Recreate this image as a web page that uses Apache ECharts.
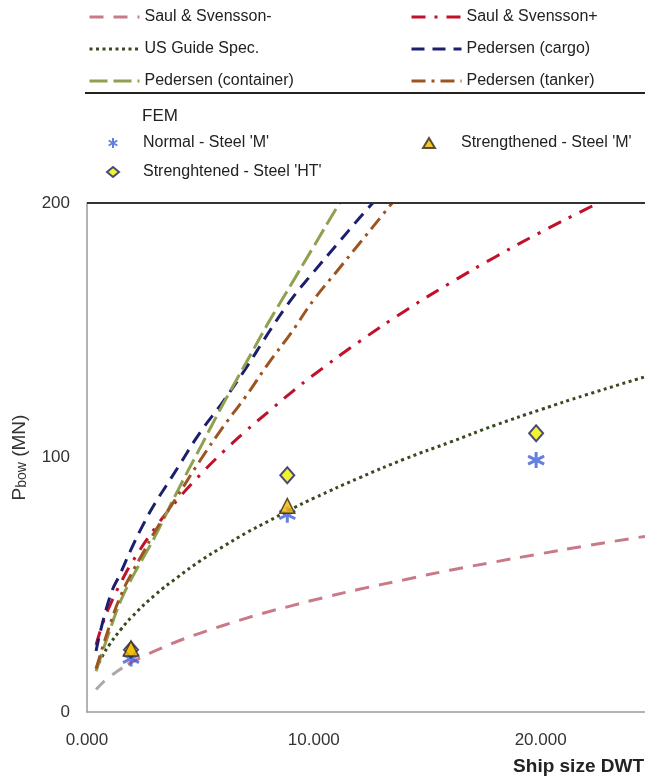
<!DOCTYPE html>
<html>
<head>
<meta charset="utf-8">
<script src="https://cdn.jsdelivr.net/npm/echarts@6/dist/echarts.min.js"></script>
<style>
html,body{margin:0;padding:0;background:#fff;}
#chart{width:645px;height:778px;}
</style>
</head>
<body>
<div id="chart"></div>
<script>
// ---- data (DWT, MN) ----
var xTicks = [0, 10000, 20000];
var yTicks = [0, 100, 200];

var saulMinusStart = [[400, 8.8], [700, 11.6], [1000, 13.9], [1400, 16.4], [1800, 18.7]];
var saulMinus = [[1800, 18.7], [2500, 22], [3000, 24], [4000, 27.8], [5000, 31], [6000, 34], [7000, 36.8], [8000, 39.4], [9000, 41.7], [10000, 44], [12000, 48.2], [14000, 52], [16000, 55.7], [18000, 59], [20000, 62.2], [22000, 65.3], [24600, 69]];
var saulPlus = [[400, 26.4], [700, 35], [1000, 41.7], [1500, 51], [2000, 59], [3000, 72.3], [4000, 83.5], [5000, 93.3], [6000, 102.2], [7000, 110.4], [8000, 118], [9000, 125.5], [10000, 132.5], [12000, 145.5], [14000, 157.5], [16000, 168.5], [18000, 178.8], [20000, 188.5], [22000, 197.6], [22600, 200.2]];
var usGuide = [[400, 17], [700, 22.3], [1000, 26.6], [1500, 32.5], [2000, 37.6], [3000, 46], [4000, 53], [5000, 59.4], [6000, 65], [7000, 70.3], [8000, 75], [9000, 79.7], [10000, 84], [12000, 92], [14000, 99.4], [16000, 106], [18000, 112.7], [20000, 118.8], [22000, 124.6], [24600, 131.7]];
var pedCargo = [[400, 24], [1000, 45], [1500, 55], [2000, 65], [2500, 74], [3000, 82], [3500, 89], [4000, 96], [5000, 110], [6000, 122], [7000, 135], [8000, 149], [9000, 162], [10000, 173], [11000, 183.5], [12000, 194], [12600, 200]];
var pedContainer = [[400, 16], [1000, 32], [1500, 44], [2000, 53], [2500, 61], [3000, 69], [4000, 87], [5000, 104], [6000, 121], [7000, 137], [8000, 153], [9000, 168], [10000, 183], [11000, 198], [11150, 200]];
var pedTanker = [[400, 17], [1000, 34], [1500, 46], [2000, 55], [2500, 63], [3000, 71], [4000, 85], [5000, 99], [6000, 112], [7000, 124], [8000, 137], [9000, 149], [10000, 162], [11000, 173], [12000, 184], [13000, 195], [13450, 200]];

var femNormalM = [[1940, 21], [8830, 77.5], [19800, 99]];
var femStrengthM = [[1940, 25], [8830, 81]];
var femStrengthHT = [[1940, 24.5], [8830, 93], [19800, 109.5]];

var names = ['Saul & Svensson-', 'Saul & Svensson+', 'US Guide Spec.', 'Pedersen (cargo)', 'Pedersen (container)', 'Pedersen (tanker)'];
var femNames = ["Normal - Steel 'M'", "Strengthened - Steel 'M'", "Strenghtened - Steel 'HT'"];

// ---- styling ----
var FONT = 'Liberation Sans, Arial, sans-serif';
var asterisk = 'path://M0,-10L0,10M-8.66,-5L8.66,5M-8.66,5L8.66,-5';

function lineSeries(name, data, color, type, width) {
  return {
    name: name, type: 'line', data: data, symbol: 'none', smooth: true,
    lineStyle: { color: color, width: width || 3, type: type },
    itemStyle: { color: color }, z: 2
  };
}

var chart = echarts.init(document.getElementById('chart'));
var legendText = { fontFamily: FONT, fontSize: 16, color: '#222' };
var hiddenSym = { opacity: 0, color: 'rgba(0,0,0,0)', borderWidth: 0 };

chart.setOption({
  animation: false,
  backgroundColor: '#fff',
  grid: { left: 87, top: 203, right: 0, bottom: 66, containLabel: false },
  legend: [
    { orient: 'vertical', left: 88, top: 9, padding: 0, itemWidth: 50, itemHeight: 14, itemGap: 16,
      itemStyle: hiddenSym, lineStyle: { width: 3 },
      textStyle: legendText, data: [names[0], names[2], names[4]] },
    { orient: 'vertical', left: 410, top: 9, padding: 0, itemWidth: 50, itemHeight: 14, itemGap: 16,
      itemStyle: hiddenSym, lineStyle: { width: 3 },
      textStyle: legendText, data: [names[1], names[3], names[5]] },
    { orient: 'vertical', left: 106, top: 135, padding: 0, itemWidth: 12, itemHeight: 10, itemGap: 13,
      textStyle: Object.assign({ padding: [0, 0, 0, 19] }, legendText), data: [femNames[0], femNames[2]] },
    { orient: 'vertical', left: 422, top: 135, padding: 0, itemWidth: 12, itemHeight: 10, itemGap: 13,
      textStyle: Object.assign({ padding: [0, 0, 0, 21] }, legendText), data: [femNames[1]] }
  ],
  xAxis: {
    type: 'value', min: xTicks[0], max: 24600, interval: xTicks[1] - xTicks[0],
    axisLine: { show: true, lineStyle: { color: '#9a9a9a', width: 1.5 } },
    axisTick: { show: false },
    splitLine: { show: false },
    axisLabel: { showMaxLabel: false, margin: 20, fontFamily: FONT, fontSize: 17, color: '#333',
      formatter: function (v) { return (v / 1000).toFixed(0) + '.000'; } }
  },
  yAxis: {
    type: 'value', min: yTicks[0], max: yTicks[2], interval: yTicks[1] - yTicks[0],
    axisLine: { show: true, lineStyle: { color: '#9a9a9a', width: 1.5 } },
    axisTick: { show: false },
    splitLine: { show: false },
    axisLabel: { margin: 17, fontFamily: FONT, fontSize: 17, color: '#333' },
    name: '{p|P}{s|bow}{n| (MN)}', nameLocation: 'middle', nameGap: 58, nameRotate: 90,
    nameTextStyle: {
      fontFamily: FONT, color: '#333',
      rich: {
        p: { fontSize: 19, fontFamily: FONT, color: '#333', lineHeight: 22, verticalAlign: 'bottom' },
        s: { fontSize: 14, fontFamily: FONT, color: '#333', lineHeight: 22, verticalAlign: 'bottom' },
        n: { fontSize: 19, fontFamily: FONT, color: '#333', lineHeight: 22, verticalAlign: 'bottom' }
      }
    }
  },
  graphic: [
    { type: 'line', shape: { x1: 85, y1: 93, x2: 645, y2: 93 }, style: { stroke: '#222', lineWidth: 2 }, z: 10 },
    { type: 'line', shape: { x1: 87, y1: 203, x2: 645, y2: 203 }, style: { stroke: '#333', lineWidth: 2 }, z: 10 },
    { type: 'text', left: 142, top: 108, style: { text: 'FEM', fontFamily: FONT, fontSize: 17, fill: '#222' } },
    { type: 'text', right: 1, top: 757, style: { text: 'Ship size DWT', fontFamily: FONT, fontSize: 19, fontWeight: 'bold', fill: '#222' } }
  ],
  series: [
    { name: '', type: 'line', data: saulMinusStart, symbol: 'none', smooth: true,
      lineStyle: { color: '#a9a9a9', width: 3, type: [12, 10] }, z: 2 },
    lineSeries(names[0], saulMinus, '#c97a88', [14, 10]),
    lineSeries(names[1], saulPlus, '#c0102a', [14, 9, 3, 9]),
    lineSeries(names[2], usGuide, '#3a4a20', [3, 3.5]),
    lineSeries(names[3], pedCargo, '#1c1f6e', [13, 8]),
    lineSeries(names[4], pedContainer, '#8fa050', [18, 6]),
    lineSeries(names[5], pedTanker, '#9c5520', [14, 6, 3, 6]),
    { name: femNames[0], type: 'scatter', data: femNormalM, symbol: asterisk, symbolSize: 16,
      itemStyle: { color: '#3f5fd6', borderColor: '#3f5fd6', borderWidth: 3 }, z: 5 },
    { name: femNames[2], type: 'scatter', data: femStrengthHT, symbol: 'diamond', symbolSize: [14, 16],
      itemStyle: { color: '#eef000', borderColor: '#1c1f6e', borderWidth: 2 }, z: 6 },
    { name: femNames[1], type: 'scatter', data: femStrengthM, symbol: 'triangle', symbolSize: 15,
      itemStyle: { color: '#f2b705', borderColor: '#3a2a10', borderWidth: 1.5 }, z: 7 }
  ]
});
</script>
</body>
</html>
